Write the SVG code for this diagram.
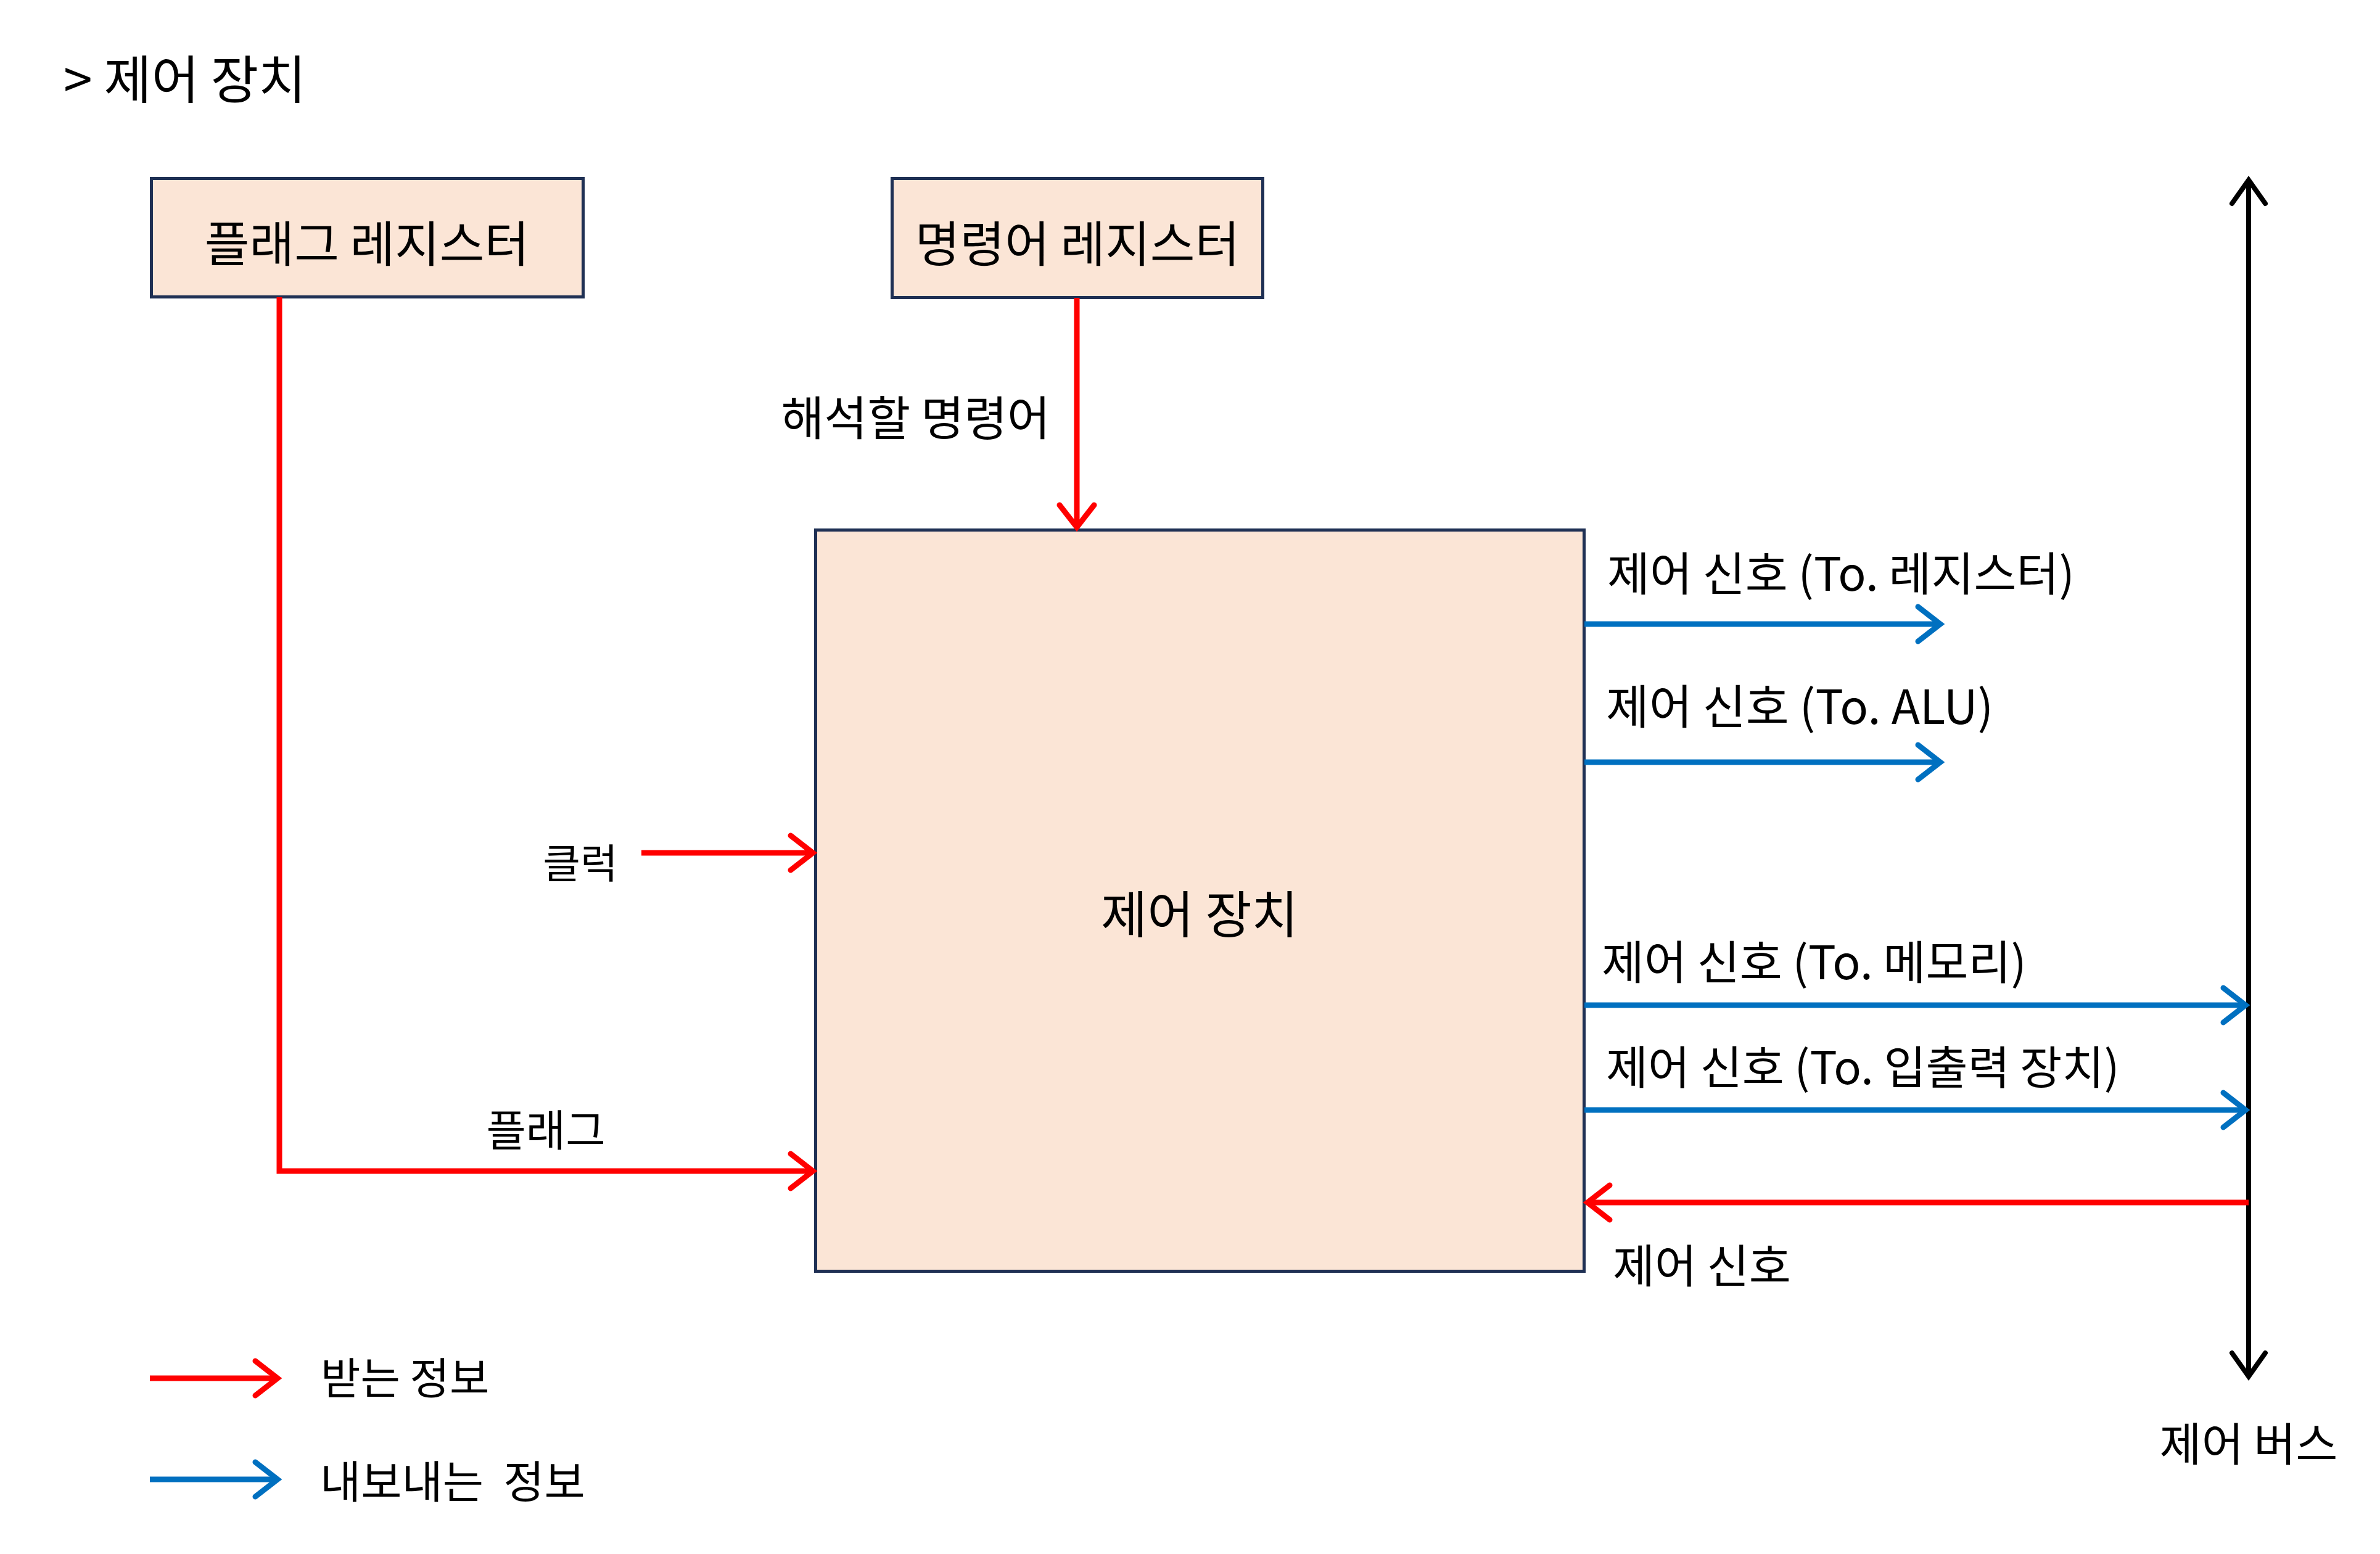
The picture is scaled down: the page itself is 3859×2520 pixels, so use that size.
<svg xmlns="http://www.w3.org/2000/svg" width="3859" height="2520" viewBox="0 0 3859 2520">
<style>
  .box { fill: #FBE5D6; stroke: #1F3054; stroke-width: 5; }
  .t { font-family: "Noto Sans CJK KR", "Noto Sans", sans-serif; fill: #000; dominant-baseline: central; }
  .red { fill: none; stroke: #FF0000; stroke-width: 9; }
  .blue { fill: none; stroke: #0070C0; stroke-width: 9; }
  .blk { fill: none; stroke: #000; stroke-width: 8; }
</style>
<defs>
  <marker id="ar" markerUnits="userSpaceOnUse" markerWidth="80" markerHeight="80" refX="0" refY="0" orient="auto" style="overflow:visible">
    <path d="M-36,-28 L0,0 L-36,28" fill="none" stroke="#FF0000" stroke-width="9" stroke-linecap="round"/>
  </marker>
  <marker id="ab" markerUnits="userSpaceOnUse" markerWidth="80" markerHeight="80" refX="0" refY="0" orient="auto" style="overflow:visible">
    <path d="M-36,-28 L0,0 L-36,28" fill="none" stroke="#0070C0" stroke-width="9" stroke-linecap="round"/>
  </marker>
  <marker id="ak" markerUnits="userSpaceOnUse" markerWidth="80" markerHeight="80" refX="0" refY="0" orient="auto-start-reverse" style="overflow:visible">
    <path d="M-38,-27 L0,0 L-38,27" fill="none" stroke="#000" stroke-width="8" stroke-linecap="round"/>
  </marker>
</defs>
<rect width="3859" height="2520" fill="#FFFFFF"/>

<text class="t" x="103" y="123" font-size="84">&gt; 제어 장치</text>

<g id="flag-register">
  <rect class="box" x="245.5" y="289.5" width="700" height="192"/>
  <text class="t" x="595" y="390" font-size="79" text-anchor="middle">플래그 레지스터</text>
</g>
<g id="instruction-register">
  <rect class="box" x="1446.5" y="289.5" width="601" height="193"/>
  <text class="t" x="1747" y="390" font-size="79" text-anchor="middle">명령어 레지스터</text>
</g>
<g id="control-unit">
  <rect class="box" x="1322.5" y="859.5" width="1246" height="1202"/>
  <text class="t" x="1945" y="1477" font-size="82" text-anchor="middle">제어 장치</text>
</g>
<g id="control-bus">
  <path class="blk" d="M3646,292 V2232" marker-start="url(#ak)" marker-end="url(#ak)"/>
  <text class="t" x="3646" y="2336" font-size="74" text-anchor="middle">제어 버스</text>
</g>

<g id="connectors">
  <path class="red" d="M453,482 V1899 H1318" marker-end="url(#ar)"/>
  <path class="red" d="M1746,483 V855" marker-end="url(#ar)"/>
  <path class="red" d="M1040,1383 H1318" marker-end="url(#ar)"/>
  <path class="blue" d="M2569,1012 H3146" marker-end="url(#ab)"/>
  <path class="blue" d="M2569,1236 H3146" marker-end="url(#ab)"/>
  <path class="blue" d="M2569,1630 H3641" marker-end="url(#ab)"/>
  <path class="blue" d="M2569,1800 H3641" marker-end="url(#ab)"/>
  <path class="red" d="M3646,1950 H2574" marker-end="url(#ar)"/>
</g>

<g id="labels">
  <text class="t" x="1703" y="673" font-size="76" text-anchor="end">해석할 명령어</text>
  <text class="t" x="941" y="1395" font-size="66" text-anchor="middle">클럭</text>
  <text class="t" x="885" y="1828" font-size="70" text-anchor="middle">플래그</text>
  <text class="t" x="2606" y="925" font-size="75">제어 신호 (To. 레지스터)</text>
  <text class="t" x="2604" y="1141" font-size="76">제어 신호 (To. ALU)</text>
  <text class="t" x="2597" y="1555" font-size="75">제어 신호 (To. 메모리)</text>
  <text class="t" x="2604" y="1725" font-size="74">제어 신호 (To. 입출력 장치)</text>
  <text class="t" x="2615" y="2047" font-size="74">제어 신호</text>
</g>

<g id="legend">
  <path class="red" d="M243,2235 H450" marker-end="url(#ar)"/>
  <text class="t" x="520" y="2230" font-size="70">받는 정보</text>
  <path class="blue" d="M243,2399 H450" marker-end="url(#ab)"/>
  <text class="t" x="519" y="2397" font-size="72" xml:space="preserve">내보내는  정보</text>
</g>
</svg>
